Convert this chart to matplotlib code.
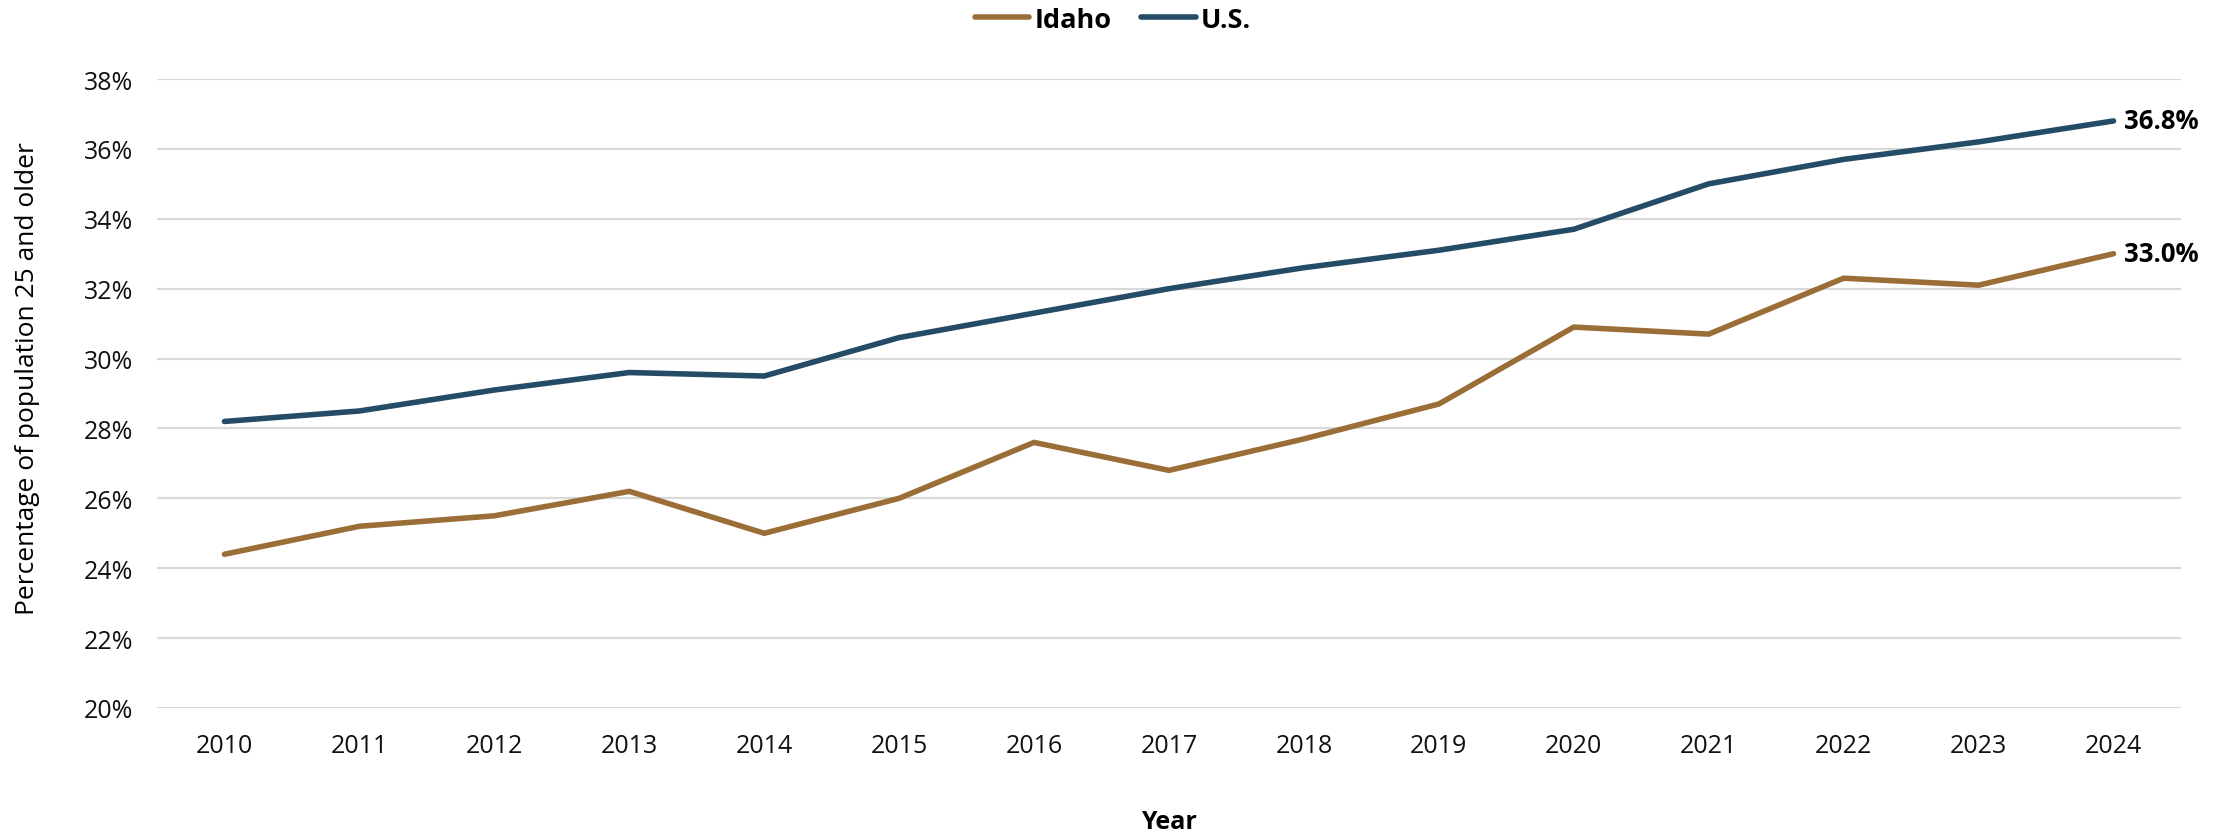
import matplotlib
matplotlib.use("Agg")
import matplotlib.pyplot as plt
from matplotlib.ticker import FuncFormatter

years = [2010, 2011, 2012, 2013, 2014, 2015, 2016, 2017, 2018, 2019, 2020, 2021, 2022, 2023, 2024]
idaho = [24.4, 25.2, 25.5, 26.2, 25.0, 26.0, 27.6, 26.8, 27.7, 28.7, 30.9, 30.7, 32.3, 32.1, 33.0]
us = [28.2, 28.5, 29.1, 29.6, 29.5, 30.6, 31.3, 32.0, 32.6, 33.1, 33.7, 35.0, 35.7, 36.2, 36.8]
series_names = ["Idaho", "U.S."]
colors = ["#9B6E37", "#244C66"]

plt.rcParams['font.family'] = ['Open Sans', 'DejaVu Sans']

fig = plt.figure(figsize=(22.26, 8.37), dpi=100)
# axes placed to match the reference grid (pixels 157..2181 x, 80..709 y)
ax = fig.add_axes([157 / 2226, 1 - 709 / 837, 2024 / 2226, 629 / 837])

x = list(range(len(years)))
lines = []
for vals, name, c in zip([idaho, us], series_names, colors):
    ln, = ax.plot(x, vals, color=c, lw=4, label=name, solid_capstyle='round', solid_joinstyle='miter')
    lines.append(ln)
    ax.text(x[-1] + 0.08, vals[-1], f"{vals[-1]:.1f}%", fontsize=18.5, fontweight='bold',
            va='center', ha='left', color='black')

ax.set_xlim(-0.5, len(years) - 0.5)
ax.set_ylim(20, 38)
ax.set_yticks(range(20, 39, 2))
ax.yaxis.set_major_formatter(FuncFormatter(lambda v, p: f"{v:.0f}%"))
ax.set_xticks(x)
ax.set_xticklabels([str(y) for y in years])
ax.tick_params(axis='both', length=0, labelsize=18, colors='#111111')
ax.tick_params(axis='x', pad=18)
ax.tick_params(axis='y', pad=17)
ax.grid(axis='y', color='#D9D9D9', lw=1.6)
ax.set_axisbelow(True)
for s in ax.spines.values():
    s.set_visible(False)

ax.set_ylabel("Percentage of population 25 and older", fontsize=19)
ax.yaxis.set_label_coords(-0.058, 0.526)
ax.set_xlabel("Year", fontsize=18, fontweight='bold', labelpad=37)

fig.legend(handles=lines, loc='center', bbox_to_anchor=(0.5, 0.975), ncol=2, frameon=False,
           prop={'weight': 'bold', 'size': 19.5}, handlelength=2.0, handletextpad=0.2, columnspacing=1.1)

fig.savefig("out.png", dpi=100, facecolor='white')
